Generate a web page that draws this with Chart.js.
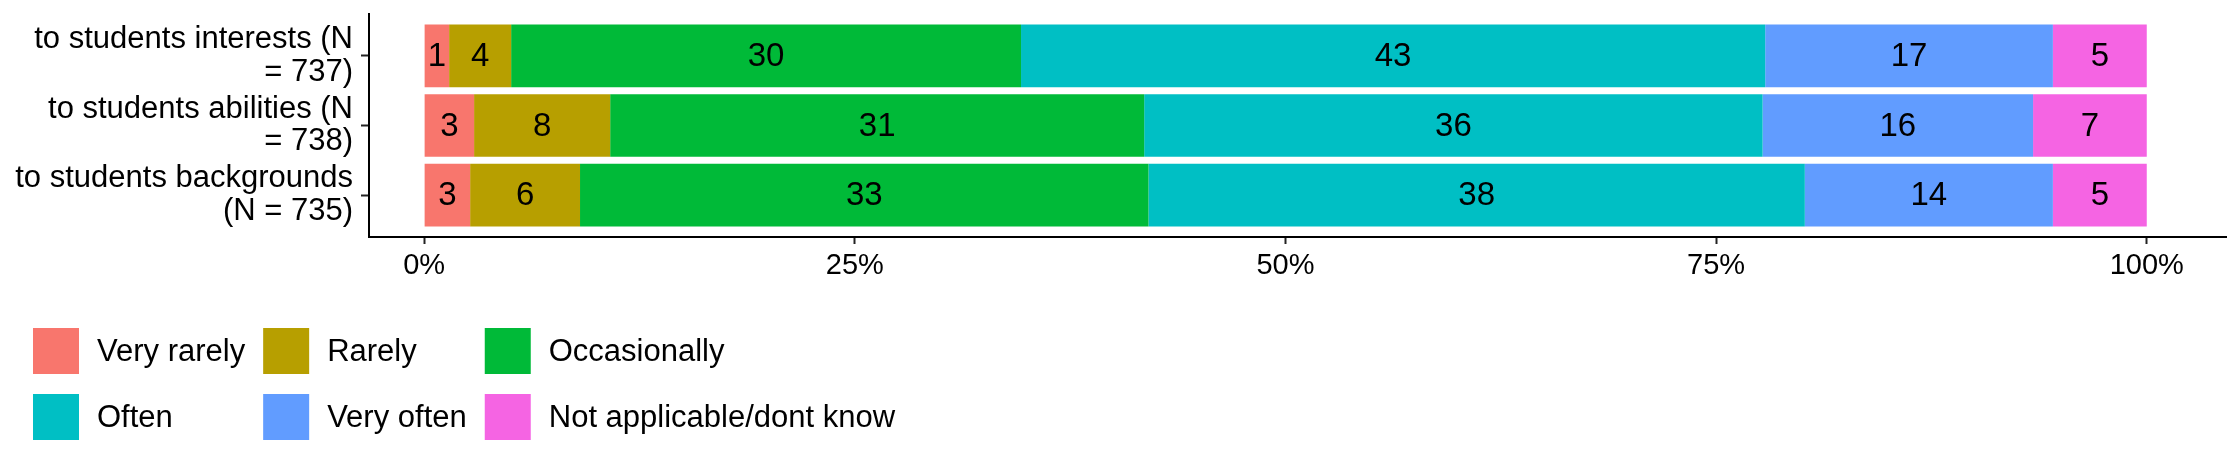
<!DOCTYPE html>
<html>
<head>
<meta charset="utf-8">
<script src="https://cdn.jsdelivr.net/npm/chart.js@4"></script>
<style>
  html, body { margin: 0; padding: 0; background: #fff; }
  #wrap { width: 2240px; height: 473px; }
</style>
</head>
<body>
<div id="wrap"><canvas id="likertChart" width="2240" height="473"></canvas></div>
<script>
// rows, top to bottom
const categories = [
    ["to students interests (N", "= 737)"],
    ["to students abilities (N", "= 738)"],
    ["to students backgrounds", "(N = 735)"]
];

const levels = ["Very rarely", "Rarely", "Occasionally", "Often", "Very often", "Not applicable/dont know"];
const levelColors = ["#F8766D", "#B79F00", "#00BA38", "#00BFC4", "#619CFF", "#F564E3"];

// percent of respondents, one value per row
const veryRarely = [1.45, 2.9, 2.67];
const rarely = [3.6, 7.9, 6.38];
const occasionally = [29.6, 31.0, 33.0];
const often = [43.2, 35.9, 38.1];
const veryOften = [16.7, 15.7, 14.4];
const notApplicable = [5.45, 6.6, 5.45];

const xTicks = [0, 25, 50, 75, 100];

const seriesValues = [veryRarely, rarely, occasionally, often, veryOften, notApplicable];

Chart.defaults.font.family = "'Liberation Sans', Arial, sans-serif";
Chart.defaults.color = "#000";

// numbers inside the bars
const barLabels = {
    id: "barLabels",
    afterDatasetsDraw(chart) {
        const c = chart.ctx;
        c.save();
        c.font = "33px 'Liberation Sans', Arial, sans-serif";
        c.fillStyle = "#000";
        c.textAlign = "center";
        c.textBaseline = "middle";
        chart.data.datasets.forEach((ds, di) => {
            const meta = chart.getDatasetMeta(di);
            meta.data.forEach((bar, i) => {
                const v = ds.data[i].x;
                c.fillText(String(Math.round(v)), (bar.x + bar.base) / 2, bar.y + 1);
            });
        });
        c.restore();
    }
};

// ggplot-like legend: 3 columns, 2 rows, filled by row
const gridLegend = {
    id: "gridLegend",
    afterDraw(chart) {
        const c = chart.ctx;
        const ds = chart.data.datasets;
        const ncol = 3, box = 46, textGap = 64, colGap = 18;
        const left = 33, rowTops = [328, 394];
        c.save();
        c.font = "31px 'Liberation Sans', Arial, sans-serif";
        c.textBaseline = "middle";
        c.textAlign = "left";
        let colX = [left];
        for (let col = 0; col < ncol - 1; col++) {
            let w = 0;
            for (let k = col; k < ds.length; k += ncol) {
                w = Math.max(w, c.measureText(ds[k].label).width);
            }
            colX.push(colX[col] + textGap + w + colGap);
        }
        ds.forEach((d, k) => {
            const col = k % ncol, row = Math.floor(k / ncol);
            const x = colX[col], y = rowTops[row];
            c.fillStyle = d.backgroundColor;
            c.fillRect(x, y, box, box);
            c.fillStyle = "#000";
            c.fillText(d.label, x + textGap, y + box / 2 + 1);
        });
        c.restore();
    }
};

const ctx = document.getElementById("likertChart").getContext("2d");

const likertChart = new Chart(ctx, {
    type: "bar",
    data: {
        datasets: levels.map((name, s) => ({
            label: name,
            data: seriesValues[s].map((v, i) => ({ x: v, y: i })),
            backgroundColor: levelColors[s],
            borderWidth: 0,
            barPercentage: 0.9,
            categoryPercentage: 1.0
        }))
    },
    options: {
        indexAxis: "y",
        responsive: false,
        animation: false,
        devicePixelRatio: 1,
        layout: {
            padding: { top: 14, right: 14, left: 0, bottom: 0 }
        },
        plugins: {
            legend: { display: false },
            tooltip: { enabled: false }
        },
        scales: {
            x: {
                type: "linear",
                stacked: true,
                min: -3.2,
                max: 104.6,
                afterBuildTicks: (s) => { s.ticks = xTicks.map(v => ({ value: v })); },
                afterFit: (s) => {
                    s.height = 236;
                    s.paddingLeft = 0;
                    s.paddingRight = 0;
                },
                ticks: {
                    autoSkip: false,
                    maxRotation: 0,
                    padding: 5,
                    font: { size: 29 },
                    color: "#000",
                    callback: (v) => v + "%"
                },
                grid: {
                    drawOnChartArea: false,
                    drawTicks: true,
                    tickLength: 7,
                    tickWidth: 2,
                    tickColor: "#222"
                },
                border: { display: true, color: "#000", width: 2 }
            },
            y: {
                type: "linear",
                stacked: true,
                reverse: true,
                offset: false,
                min: -0.6,
                max: 2.6,
                afterBuildTicks: (s) => { s.ticks = categories.map((c, i) => ({ value: i })); },
                afterFit: (s) => {
                    s.width = 369;
                    s.paddingTop = 0;
                    s.paddingBottom = 0;
                },
                ticks: {
                    autoSkip: false,
                    padding: 8,
                    font: { size: 31, lineHeight: 1.06 },
                    color: "#000",
                    callback: (v) => categories[v]
                },
                grid: {
                    offset: false,
                    drawOnChartArea: false,
                    drawTicks: true,
                    tickLength: 8,
                    tickWidth: 2,
                    tickColor: "#222"
                },
                border: { display: true, color: "#000", width: 2 }
            }
        }
    },
    plugins: [barLabels, gridLegend]
});
</script>
</body>
</html>
